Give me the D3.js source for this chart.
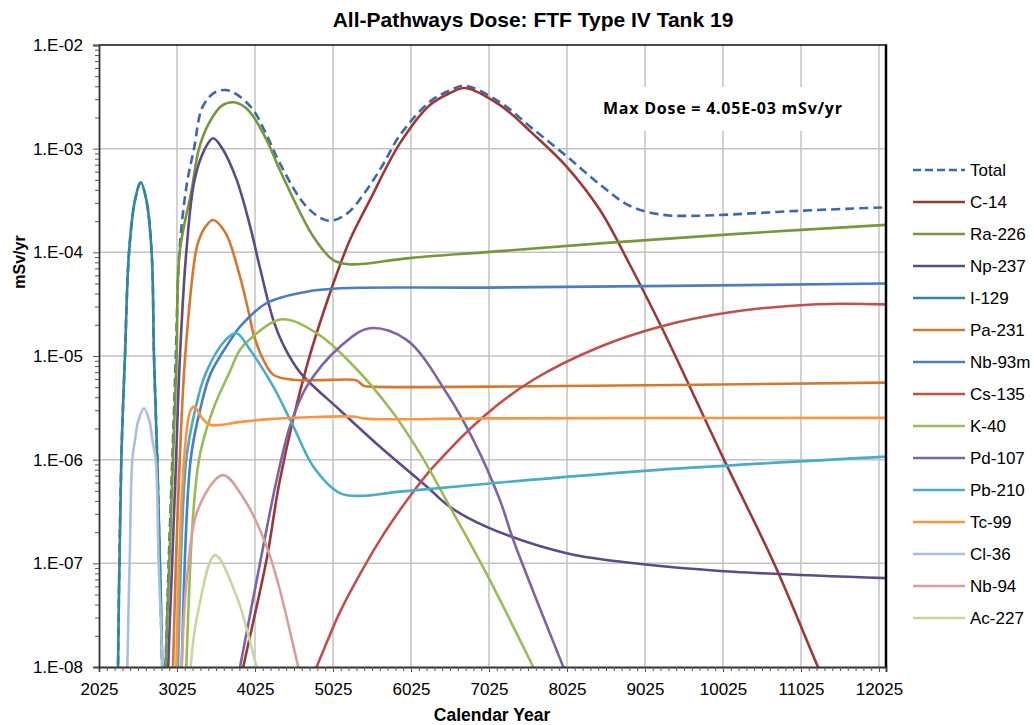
<!DOCTYPE html>
<html lang="en">
<head>
<meta charset="UTF-8">
<title>All-Pathways Dose: FTF Type IV Tank 19</title>
<script src="https://d3js.org/d3.v7.min.js"></script>
<style>
  body { margin: 0; background: #fff; }
  svg { display: block; font-family: "Liberation Sans", Arial, sans-serif; }
</style>
</head>
<body>
<svg id="chart" width="1034" height="725"></svg>
<script>
// [year, dose mSv/yr]
const total = [[2250,1e-10],[2269,1e-8],[2311,1e-6],[2358,1e-5],[2410,1e-4],[2487,3.2e-4],[2560,4.7e-4],[2632,3.2e-4],[2700,1e-4],[2730,1e-5],[2772,1e-6],[2836,1e-8],[2858,3e-9],[2878,1e-8],[2918,1e-7],[2965,1e-6],[3010,1e-5],[3055,1e-4],[3150,4.5e-4],[3243,1e-3],[3350,2.5e-3],[3500,3.45e-3],[3649,3.68e-3],[3800,3.3e-3],[4003,2.36e-3],[4175,1.35e-3],[4345,7.2e-4],[4687,2.75e-4],[4965,2.02e-4],[5200,2.35e-4],[5414,3.6e-4],[5650,6.7e-4],[5884,1.35e-3],[6268,2.85e-3],[6525,3.65e-3],[6717,4.05e-3],[7166,2.8e-3],[7589,1.55e-3],[8025,8.4e-4],[8448,4.5e-4],[8833,2.8e-4],[9255,2.3e-4],[9600,2.25e-4],[10025,2.3e-4],[11025,2.52e-4],[12115,2.72e-4]];
const c14 = [[3800,5.2e-9],[3875,1e-8],[4175,1.1e-7],[4345,6.4e-7],[4687,7.9e-6],[5029,5.0e-5],[5243,1.32e-4],[5499,3.2e-4],[5884,1.13e-3],[6268,2.64e-3],[6525,3.44e-3],[6717,3.85e-3],[7166,2.63e-3],[7589,1.39e-3],[8025,6.65e-4],[8448,2.56e-4],[8833,7.55e-5],[9255,1.78e-5],[10038,1e-6],[10679,1e-7],[11243,1e-8],[11400,5.4e-9]];
const ra226 = [[2860,1e-9],[2880,1e-8],[2926,1e-7],[2973,1e-6],[3020,1e-5],[3059,1e-4],[3213,4e-4],[3307,1e-3],[3435,1.76e-3],[3600,2.6e-3],[3756,2.8e-3],[3900,2.5e-3],[4003,2.04e-3],[4175,1.21e-3],[4345,6.2e-4],[4772,1.42e-4],[5029,8.4e-5],[5243,7.66e-5],[6000,8.8e-5],[7037,1.01e-4],[8448,1.22e-4],[10157,1.5e-4],[12115,1.84e-4]];
const np237 = [[2890,1e-9],[2913,1e-8],[2963,1e-7],[3013,1e-6],[3063,1e-5],[3144,1e-4],[3250,5e-4],[3384,1e-3],[3487,1.26e-3],[3600,1.02e-3],[3790,5e-4],[3961,1.8e-4],[4089,7.06e-5],[4260,2.22e-5],[4388,1.28e-5],[4602,6.95e-6],[5115,3.0e-6],[5628,1.33e-6],[6226,5.5e-7],[6525,3.5e-7],[6995,2.25e-7],[8021,1.25e-7],[9003,9.8e-8],[10157,8.3e-8],[12115,7.2e-8]];
const i129 = [[2250,1e-10],[2269,1e-8],[2311,1e-6],[2358,1e-5],[2410,1e-4],[2487,3.2e-4],[2560,4.7e-4],[2632,3.2e-4],[2700,1e-4],[2730,1e-5],[2772,1e-6],[2836,1e-8],[2855,1e-10]];
const pa231 = [[2955,1e-9],[2974,1e-8],[3010,1e-7],[3060,1e-6],[3130,1e-5],[3265,1e-4],[3307,1.32e-4],[3393,1.78e-4],[3487,2.05e-4],[3649,1.53e-4],[3820,6.3e-5],[3948,2.57e-5],[4003,1.66e-5],[4132,9.2e-6],[4260,6.6e-6],[4516,5.9e-6],[5285,5.9e-6],[5340,5.75e-6],[5420,5.15e-6],[5500,5.06e-6],[7037,5.06e-6],[12115,5.53e-6]];
const nb93m = [[3065,1e-9],[3085,1e-8],[3200,1e-6],[3329,3.2e-6],[3457,6.8e-6],[3713,1.43e-5],[3833,1.92e-5],[4175,3.24e-5],[4687,4.17e-5],[5115,4.5e-5],[7037,4.57e-5],[12115,5.0e-5]];
const cs135 = [[4700,6.3e-9],[4815,1e-8],[5115,3.4e-8],[5414,9e-8],[5650,1.79e-7],[5884,3.27e-7],[6055,4.9e-7],[6311,8.5e-7],[6953,2.6e-6],[7593,5.9e-6],[8448,1.23e-5],[9217,1.92e-5],[10157,2.67e-5],[11226,3.16e-5],[12115,3.15e-5]];
const k40 = [[3120,1e-9],[3144,1e-8],[3307,1e-6],[3499,3.2e-6],[3692,6.8e-6],[3833,1.15e-5],[3948,1.43e-5],[4367,2.26e-5],[4815,1.66e-5],[5243,8.7e-6],[5756,3.1e-6],[6140,1.15e-6],[6525,3.5e-7],[6995,7.9e-8],[7593,1e-8],[7700,6.9e-9]];
const pd107 = [[3780,6.3e-9],[3833,1e-8],[4089,1e-7],[4303,6.4e-7],[4474,2.1e-6],[4687,5.06e-6],[5115,1.23e-5],[5499,1.85e-5],[5969,1.43e-5],[6482,4.4e-6],[6824,1.55e-6],[7165,4.07e-7],[7337,1.68e-7],[7978,1e-8],[8100,5.9e-9]];
const pb210 = [[3015,1e-9],[3038,1e-8],[3144,1e-6],[3265,3.2e-6],[3393,6.8e-6],[3649,1.43e-5],[3790,1.66e-5],[3961,1.15e-5],[4260,5.06e-6],[4516,2.1e-6],[4772,8.6e-7],[5115,4.75e-7],[5371,4.47e-7],[5884,4.92e-7],[7037,5.9e-7],[9015,7.8e-7],[12115,1.07e-6]];
const tc99 = [[2995,1e-9],[3016,1e-8],[3115,1e-6],[3200,3e-6],[3251,3.25e-6],[3350,2.5e-6],[3457,2.16e-6],[3820,2.3e-6],[4204,2.46e-6],[5300,2.6e-6],[5420,2.5e-6],[5550,2.46e-6],[7037,2.5e-6],[12115,2.53e-6]];
const cl36 = [[2370,1e-10],[2388,1e-8],[2418,1e-7],[2452,1e-6],[2487,1.55e-6],[2525,2.3e-6],[2602,3.13e-6],[2675,2.3e-6],[2709,1.55e-6],[2752,1e-6],[2790,1e-7],[2836,1e-8],[2855,1e-10]];
const nb94 = [[3060,1e-9],[3085,1e-8],[3157,7.9e-8],[3307,3.5e-7],[3615,7.1e-7],[3900,4e-7],[4089,2.1e-7],[4204,1.26e-7],[4345,5.5e-8],[4580,1e-8],[4650,6.1e-9]];
const ac227 = [[3180,1e-9],[3200,1e-8],[3307,3.8e-8],[3512,1.2e-7],[3790,4.8e-8],[4046,1e-8],[4100,7.2e-9]];

const names  = ["Total","C-14","Ra-226","Np-237","I-129","Pa-231","Nb-93m","Cs-135","K-40","Pd-107","Pb-210","Tc-99","Cl-36","Nb-94","Ac-227"];
const colors = ["#3d6aa5","#9a3a37","#77973d","#5f4a86","#31879d","#d4782f","#4a7ec1","#c0504d","#9bbb59","#8064a2","#4bacc6","#f79646","#a9bfdf","#d7a09e","#c4d8a0"];
const dataSets = [total,c14,ra226,np237,i129,pa231,nb93m,cs135,k40,pd107,pb210,tc99,cl36,nb94,ac227];

const xTicks = d3.range(2025, 12026, 1000);
const yTicks = [1e-8,1e-7,1e-6,1e-5,1e-4,1e-3,1e-2];
const yLabels = ["1.E-08","1.E-07","1.E-06","1.E-05","1.E-04","1.E-03","1.E-02"];

const svg = d3.select("#chart");
const pLeft = 99, pRight = 886, pTop = 45, pBottom = 667;

const x = d3.scaleLinear().domain([2025, 12115]).range([pLeft, pRight]);
const y = d3.scaleLog().domain([1e-8, 1e-2]).range([pBottom, pTop]);

// gridlines
svg.append("g").selectAll("line")
  .data(xTicks.slice(1))
  .enter().append("line")
  .attr("x1", d => x(d)).attr("x2", d => x(d))
  .attr("y1", pTop).attr("y2", pBottom)
  .attr("stroke", "#c3c3c3").attr("stroke-width", 1.5);

svg.append("g").selectAll("line")
  .data(yTicks.slice(1, -1))
  .enter().append("line")
  .attr("x1", pLeft).attr("x2", pRight)
  .attr("y1", d => y(d)).attr("y2", d => y(d))
  .attr("stroke", "#c3c3c3").attr("stroke-width", 1.5);

// annotation box (covers the grid)
svg.append("rect")
  .attr("x", 590).attr("y", 87).attr("width", 268).attr("height", 44)
  .attr("fill", "#fff");
svg.append("text")
  .attr("x", 603).attr("y", 114)
  .attr("textLength", 239)
  .attr("lengthAdjust", "spacing")
  .style("font-family", "'Open Sans', Lato, sans-serif")
  .style("font-weight", "bold")
  .style("font-size", "16px")
  .text("Max Dose = 4.05E-03 mSv/yr");

// series
svg.append("clipPath").attr("id", "clip")
  .append("rect").attr("x", pLeft).attr("y", pTop)
  .attr("width", pRight - pLeft).attr("height", pBottom - pTop);

const line = d3.line()
  .x(d => x(d[0]))
  .y(d => y(d[1]))
  .curve(d3.curveCatmullRom.alpha(0.5));

const plot = svg.append("g").attr("clip-path", "url(#clip)");
dataSets.forEach(function(ds, i) {
  plot.append("path")
    .datum(ds)
    .attr("d", line)
    .attr("fill", "none")
    .attr("stroke", colors[i])
    .attr("stroke-width", 2.6)
    .attr("stroke-dasharray", i == 0 ? "9,5" : null);
});

// frame
svg.append("line").attr("x1", pLeft).attr("x2", pRight).attr("y1", pTop).attr("y2", pTop)
  .attr("stroke", "#111").attr("stroke-width", 1.5);
svg.append("line").attr("x1", pRight).attr("x2", pRight).attr("y1", pTop - 0.7).attr("y2", pBottom + 0.7)
  .attr("stroke", "#000").attr("stroke-width", 2.5);

// x axis
svg.append("g")
  .attr("transform", "translate(0," + pBottom + ")")
  .call(d3.axisBottom(x).tickValues(xTicks).tickSize(5).tickPadding(11).tickFormat(d3.format("d")));
svg.append("g")
  .attr("transform", "translate(0," + pBottom + ")")
  .call(d3.axisBottom(x).tickValues(d3.range(2025, 12115, 100)).tickSize(4).tickFormat(""))
  .select(".domain").remove();

// y axis
svg.append("g")
  .attr("transform", "translate(" + pLeft + ",0)")
  .call(d3.axisLeft(y).tickValues(yTicks).tickSize(6).tickPadding(10).tickFormat((d, i) => yLabels[i]));
const minor = [];
yTicks.slice(0, -1).forEach(function(d) {
  for (let k = 2; k < 10; k++) minor.push(d * k);
});
svg.append("g")
  .attr("transform", "translate(" + pLeft + ",0)")
  .call(d3.axisLeft(y).tickValues(minor).tickSize(4).tickFormat(""))
  .select(".domain").remove();

svg.selectAll(".domain").attr("stroke", "#333").attr("stroke-width", 1.8);
svg.selectAll(".tick line").attr("stroke", "#555");
svg.selectAll(".tick text")
  .style("font-family", "'Liberation Sans', Arial, sans-serif")
  .style("font-size", "17px")
  .attr("fill", "#000");

// titles
svg.append("text")
  .attr("x", 533).attr("y", 27)
  .attr("text-anchor", "middle")
  .style("font-weight", "bold")
  .style("font-size", "21px")
  .text("All-Pathways Dose: FTF Type IV  Tank 19");

svg.append("text")
  .attr("x", 492).attr("y", 721)
  .attr("text-anchor", "middle")
  .style("font-weight", "bold")
  .style("font-size", "17.5px")
  .text("Calendar Year");

svg.append("text")
  .attr("transform", "translate(25,262)rotate(-90)")
  .attr("text-anchor", "middle")
  .style("font-weight", "bold")
  .style("font-size", "16px")
  .text("mSv/yr");

// legend
const legend = svg.append("g");
names.forEach(function(n, i) {
  const ly = 170 + 32 * i;
  legend.append("line")
    .attr("x1", 913).attr("x2", 965)
    .attr("y1", ly).attr("y2", ly)
    .attr("stroke", colors[i])
    .attr("stroke-width", 2.6)
    .attr("stroke-dasharray", i == 0 ? "8,4" : null);
  legend.append("text")
    .attr("x", 970).attr("y", ly)
    .attr("dy", "0.35em")
    .style("font-size", "17px")
    .text(n);
});
</script>
</body>
</html>
